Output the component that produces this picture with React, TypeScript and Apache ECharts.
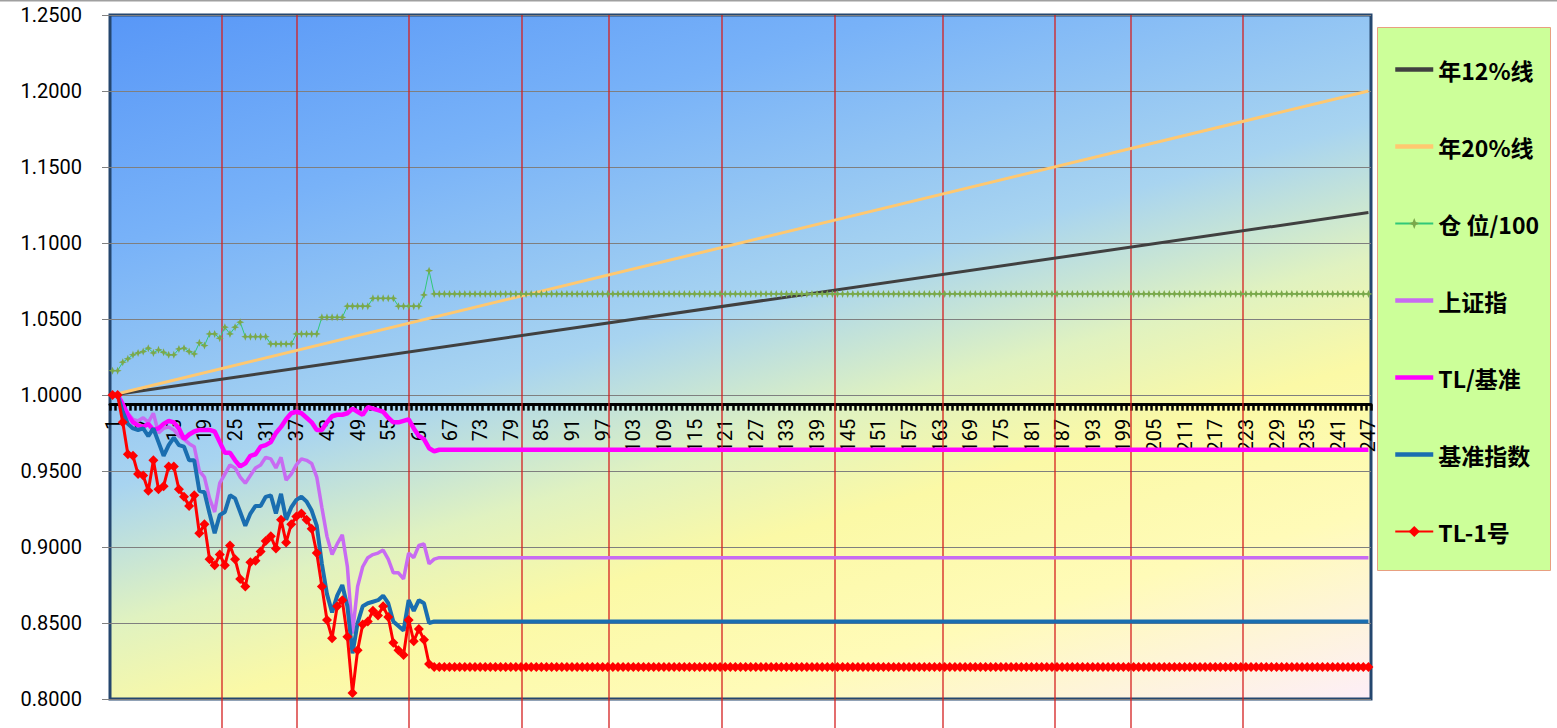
import { useEffect, useRef } from "react";
import * as echarts from "echarts";

const N = 247;
const categories: string[] = Array.from({ length: N }, (_, i) => String(i + 1));
const yTicks = { min: 0.8, max: 1.25, interval: 0.05 };

// values read for days 1..64, then the series stay flat
const tl1Head = [
  1.0, 1.0, 0.982, 0.961, 0.96, 0.948, 0.947, 0.937, 0.957, 0.938,
  0.94, 0.953, 0.953, 0.938, 0.933, 0.927, 0.934, 0.909, 0.915, 0.892,
  0.888, 0.895, 0.888, 0.901, 0.892, 0.879, 0.874, 0.89, 0.891, 0.897,
  0.904, 0.907, 0.899, 0.918, 0.903, 0.915, 0.92, 0.922, 0.918, 0.912,
  0.896, 0.874, 0.852, 0.84, 0.861, 0.865, 0.841, 0.804, 0.832, 0.849,
  0.851, 0.858, 0.855, 0.861, 0.854, 0.837, 0.832, 0.829, 0.852, 0.838,
  0.846, 0.839, 0.823, 0.821,
];
const tl1Flat = 0.821;

const benchHead = [
  1.0, 1.0, 0.989, 0.981, 0.978, 0.977, 0.978, 0.973, 0.978, 0.969,
  0.96, 0.967, 0.972, 0.967, 0.966, 0.957, 0.957, 0.937, 0.936, 0.922,
  0.909, 0.921, 0.923, 0.934, 0.932, 0.923, 0.914, 0.922, 0.927, 0.927,
  0.933, 0.934, 0.922, 0.935, 0.918, 0.926, 0.931, 0.933, 0.93, 0.924,
  0.914, 0.889, 0.869, 0.857, 0.868, 0.875, 0.861, 0.83, 0.85, 0.861,
  0.863, 0.864, 0.865, 0.868, 0.863, 0.851, 0.848, 0.845, 0.865, 0.858,
  0.865, 0.863, 0.85, 0.851,
];
const benchFlat = 0.851;

const shHead = [
  1.0, 1.0, 0.992, 0.988, 0.984, 0.983, 0.985, 0.982, 0.988, 0.975,
  0.978, 0.979, 0.977, 0.973, 0.971, 0.968, 0.966, 0.95, 0.946, 0.932,
  0.923, 0.942, 0.948, 0.954, 0.952, 0.946, 0.942, 0.947, 0.952, 0.954,
  0.959, 0.958, 0.952, 0.959, 0.944, 0.948, 0.954, 0.958, 0.957, 0.955,
  0.946, 0.926, 0.907, 0.895, 0.902, 0.908, 0.887, 0.843, 0.874, 0.887,
  0.893, 0.895, 0.896, 0.898, 0.892, 0.883, 0.883, 0.879, 0.896, 0.893,
  0.901, 0.902, 0.889, 0.892,
];
const shFlat = 0.893;

const ratioHead = [
  1.0, 1.0, 0.994, 0.987, 0.982, 0.98, 0.979, 0.981, 0.977, 0.978,
  0.981, 0.983, 0.982, 0.978, 0.971, 0.974, 0.976, 0.977, 0.977, 0.977,
  0.976, 0.969, 0.962, 0.962, 0.957, 0.953, 0.955, 0.96, 0.961, 0.966,
  0.967, 0.969, 0.975, 0.979, 0.984, 0.988, 0.989, 0.988, 0.985, 0.982,
  0.977, 0.977, 0.982, 0.986, 0.987, 0.987, 0.988, 0.991, 0.989, 0.987,
  0.992, 0.991, 0.99, 0.989, 0.985, 0.982, 0.982, 0.983, 0.984, 0.978,
  0.973, 0.971, 0.965, 0.963,
];
const ratioFlat = 0.964;

const posHead = [
  1.016, 1.016, 1.0216, 1.0238, 1.0264, 1.0277, 1.0286, 1.0308, 1.0277, 1.0297,
  1.0281, 1.0264, 1.0264, 1.0303, 1.0308, 1.0286, 1.027, 1.0343, 1.0325, 1.0402,
  1.0402, 1.0374, 1.0446, 1.0402, 1.0446, 1.0479, 1.0384, 1.0384, 1.0384, 1.0384,
  1.0384, 1.0336, 1.0336, 1.0336, 1.0336, 1.0336, 1.0402, 1.0402, 1.0402, 1.0402,
  1.0402, 1.0511, 1.0511, 1.0511, 1.0511, 1.0511, 1.0584, 1.0584, 1.0584, 1.0584,
  1.0584, 1.0636, 1.0636, 1.0636, 1.0636, 1.0636, 1.0584, 1.0584, 1.0584, 1.0584,
  1.0584, 1.0658, 1.0818, 1.0665,
];
const posFlat = 1.0665;

const line12Ends = [1.0, 1.12];
const line20Ends = [1.0, 1.2];

// month separators, in day units (fractional positions between days)
const monthMarks = [22.5, 37.1, 59.1, 81.2, 98.3, 120.4, 142.5, 163.7, 185.6, 200.5, 222.4];

const legendNames = ["年12%线", "年20%线", "仓 位/100", "上证指", "TL/基准", "基准指数", "TL-1号"];
const lineOnly = new Set(["年12%线", "年20%线", "上证指", "TL/基准", "基准指数"]);

const full = (head: number[], flat: number) =>
  head.concat(Array(N - head.length).fill(flat));
const ends = (e: number[]) =>
  categories.map((_, i) => (i === 0 ? e[0] : i === N - 1 ? e[1] : null));

const numFont = "Roboto, 'Liberation Sans', sans-serif";

export default function App() {
  const ref = useRef<HTMLDivElement>(null);
  useEffect(() => {
    document.body.style.margin = "0";
    if (!ref.current) return;
    const chart = echarts.init(ref.current, undefined, { renderer: "svg" });
    const option: any = {
      animation: false,
      backgroundColor: "#ffffff",
      grid: {
        left: 110,
        right: 186,
        top: 15,
        bottom: 29,
        show: true,
        borderColor: "#24466e",
        borderWidth: 3,
        backgroundColor: new echarts.graphic.LinearGradient(0, 0, 0.642, 1.193, [
          { offset: 0, color: "#5897f7" },
          { offset: 0.22, color: "#78b2f8" },
          { offset: 0.45, color: "#a8d4f0" },
          { offset: 0.58, color: "#e0f2c0" },
          { offset: 0.68, color: "#fbf9a6" },
          { offset: 0.82, color: "#fffbb8" },
          { offset: 1, color: "#fdeef8" },
        ]),
      },
      legend: {
        orient: "vertical",
        left: 1388,
        top: 53,
        itemGap: 54,
        itemWidth: 38,
        itemHeight: 14,
        selectedMode: false,
        data: legendNames.map((n) =>
          lineOnly.has(n)
            ? { name: n, itemStyle: { opacity: 0 }, lineStyle: { width: 4.5 } }
            : { name: n }
        ),
        textStyle: {
          fontSize: 23,
          fontWeight: "bold",
          color: "#000",
          fontFamily: "'Noto Sans CJK SC', sans-serif",
        },
      },
      graphic: [
        {
          type: "rect",
          z: 0,
          silent: true,
          shape: { x: 1377.5, y: 27.5, width: 173, height: 543 },
          style: { fill: "#ccff99", stroke: "#e8a080", lineWidth: 1 },
        },
        {
          type: "rect",
          z: 0,
          silent: true,
          shape: { x: 0, y: 0, width: 1557, height: 1.5 },
          style: { fill: "#a0a0a0" },
        },
      ],
      xAxis: [
        {
          type: "category",
          data: categories,
          boundaryGap: true,
          position: "bottom",
          axisLine: { show: true, onZero: false, lineStyle: { color: "#000", width: 3 } },
          axisTick: { show: true, interval: 0, length: 6, lineStyle: { color: "#000", width: 2.5 } },
          axisLabel: {
            interval: 5,
            rotate: 90,
            margin: 14,
            fontSize: 20,
            color: "#000",
            fontFamily: numFont,
          },
          splitLine: { show: false },
        },
        {
          type: "value",
          min: 0.5,
          max: 247.5,
          show: false,
          splitLine: { show: false },
          axisLine: { show: false },
          axisTick: { show: false },
          axisLabel: { show: false },
        },
      ],
      yAxis: {
        type: "value",
        min: yTicks.min,
        max: yTicks.max,
        interval: yTicks.interval,
        axisLine: { show: false },
        axisTick: { show: true, length: 8, lineStyle: { color: "#808080" } },
        axisLabel: {
          formatter: (v: number) => v.toFixed(4),
          fontSize: 20,
          color: "#000",
          margin: 28,
          fontFamily: numFont,
        },
        splitLine: { lineStyle: { color: "#7f7f7f", width: 1 } },
      },
      series: [
        {
          name: "monthMarks",
          type: "custom",
          xAxisIndex: 1,
          yAxisIndex: 0,
          z: 1,
          clip: false,
          silent: true,
          data: monthMarks.map((m) => [m, yTicks.max]),
          renderItem: (params: any, api: any) => {
            const p = api.coord([api.value(0), api.value(1)]);
            const x = Math.round(p[0]);
            return {
              type: "line",
              shape: { x1: x, y1: p[1], x2: x, y2: api.getHeight() },
              style: { stroke: "#d42020", lineWidth: 1.3, fill: null },
            };
          },
        },
        {
          name: "年12%线",
          type: "line",
          data: ends(line12Ends),
          connectNulls: true,
          symbol: "none",
          lineStyle: { color: "#404040", width: 3 },
          itemStyle: { color: "#404040" },
        },
        {
          name: "年20%线",
          type: "line",
          data: ends(line20Ends),
          connectNulls: true,
          symbol: "none",
          lineStyle: { color: "#ffc870", width: 3 },
          itemStyle: { color: "#ffc870" },
        },
        {
          name: "仓 位/100",
          type: "line",
          data: full(posHead, posFlat),
          showAllSymbol: true,
          symbol: "path://M5,0 L6.4,3.6 L10,5 L6.4,6.4 L5,10 L3.6,6.4 L0,5 L3.6,3.6 Z",
          symbolSize: 8,
          lineStyle: { color: "#30c878", width: 1 },
          itemStyle: { color: "#7ba84a" },
        },
        {
          name: "上证指",
          type: "line",
          data: full(shHead, shFlat),
          symbol: "none",
          lineStyle: { color: "#c86bf2", width: 3.5 },
          itemStyle: { color: "#c86bf2" },
        },
        {
          name: "TL/基准",
          type: "line",
          data: full(ratioHead, ratioFlat),
          symbol: "none",
          lineStyle: { color: "#ff00ff", width: 4.5 },
          itemStyle: { color: "#ff00ff" },
        },
        {
          name: "基准指数",
          type: "line",
          data: full(benchHead, benchFlat),
          symbol: "none",
          lineStyle: { color: "#1a6eb0", width: 4 },
          itemStyle: { color: "#1a6eb0" },
        },
        {
          name: "TL-1号",
          type: "line",
          data: full(tl1Head, tl1Flat),
          showAllSymbol: true,
          symbol: "diamond",
          symbolSize: 10,
          lineStyle: { color: "#ff0000", width: 3 },
          itemStyle: { color: "#ff0000" },
        },
      ],
    };
    chart.setOption(option);

    const bottom = chart.convertToPixel({ yAxisIndex: 0 }, yTicks.min) as number;
    const y1 = chart.convertToPixel({ yAxisIndex: 0 }, 1.0) as number;
    chart.setOption({ xAxis: [{ offset: y1 - bottom }, {}] });
    return () => chart.dispose();
  }, []);
  return <div ref={ref} style={{ width: 1557, height: 728 }} />;
}
